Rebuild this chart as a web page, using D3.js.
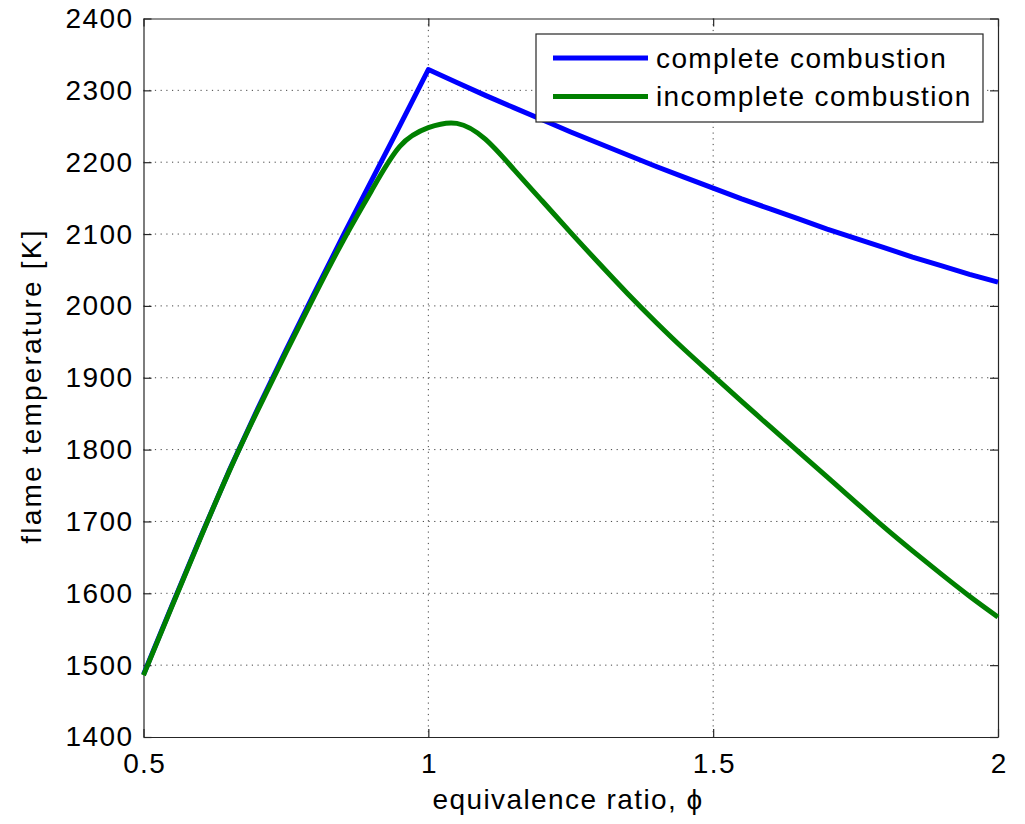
<!DOCTYPE html>
<html>
<head>
<meta charset="utf-8">
<script src="https://cdn.jsdelivr.net/npm/d3@7"></script>
<style>
    body { margin: 0; background: #fff; }
    text { font-family: Arial, "Liberation Sans", Helvetica, sans-serif; fill: #000; }
</style>
</head>
<body>
<div id="chart"></div>
<script>

// Data
const phi = [0.50, 0.55, 0.60, 0.65, 0.70, 0.75, 0.80, 0.85, 0.90, 0.95,
    1.00, 1.05, 1.10, 1.15, 1.20, 1.25, 1.30, 1.35, 1.40, 1.45,
    1.50, 1.55, 1.60, 1.65, 1.70, 1.75, 1.80, 1.85, 1.90, 1.95, 2.00]

const completeT = [1487, 1583, 1678, 1770, 1856, 1938, 2018, 2097, 2174, 2251,
    2329, 2311, 2293, 2276, 2259, 2242, 2226, 2210, 2194, 2179,
    2164, 2149, 2135, 2121, 2107, 2094, 2081, 2068, 2056, 2044, 2033]

const incompleteT = [1486, 1582, 1677, 1769, 1854, 1935, 2014, 2090, 2160, 2222,
    2248, 2254, 2232, 2190, 2146, 2102, 2059, 2017, 1977, 1939,
    1903, 1867, 1832, 1797, 1762, 1727, 1692, 1659, 1627, 1596, 1567]

const seriesLabels = ['complete combustion', 'incomplete combustion']
const seriesColors = ['#0000ff', '#008000']
const xTicks = [0.5, 1, 1.5, 2]
const yTicks = [1400, 1500, 1600, 1700, 1800, 1900, 2000, 2100, 2200, 2300, 2400]

// Layout
const width = 1025, height = 824
const plotLeft = 143.5, plotRight = 998, plotTop = 18.5, plotBottom = 737
const fontSize = 28
const letterSpacing = 1.4

const svg = d3.select('#chart').append('svg')
    .attr('width', width)
    .attr('height', height)

svg.append('rect').attr('width', width).attr('height', height).attr('fill', '#fff')

const xScale = d3.scaleLinear().domain([0.5, 2]).range([plotLeft, plotRight])
const yScale = d3.scaleLinear().domain([1400, 2400]).range([plotBottom, plotTop])

// Grid
const grid = svg.append('g').attr('class', 'grid')
grid.selectAll('.hgrid')
    .data(yTicks.slice(1, -1))
    .enter()
    .append('line')
    .attr('x1', plotLeft).attr('x2', plotRight)
    .attr('y1', d=>yScale(d)).attr('y2', d=>yScale(d))
grid.selectAll('.vgrid')
    .data(xTicks.slice(1, -1))
    .enter()
    .append('line')
    .attr('x1', d=>xScale(d)).attr('x2', d=>xScale(d))
    .attr('y1', plotTop).attr('y2', plotBottom)
grid.selectAll('line')
    .style('stroke', '#444')
    .style('stroke-width', 1)
    .style('stroke-dasharray', '1.2 4.5')

// Axes (box with inward ticks on all sides)
const tickLen = 8
const xAxis = d3.axisBottom(xScale).tickValues(xTicks).tickFormat(d3.format('')).tickSizeInner(-tickLen).tickSizeOuter(0).tickPadding(16)
const yAxis = d3.axisLeft(yScale).tickValues(yTicks).tickFormat(d3.format('d')).tickSizeInner(-tickLen).tickSizeOuter(0).tickPadding(10)
const xAxisTop = d3.axisTop(xScale).tickValues(xTicks).tickFormat('').tickSizeInner(-tickLen).tickSizeOuter(0)
const yAxisRight = d3.axisRight(yScale).tickValues(yTicks).tickFormat('').tickSizeInner(-tickLen).tickSizeOuter(0)

const gx = svg.append('g').attr('transform', 'translate(0,' + plotBottom + ')').call(xAxis)
const gy = svg.append('g').attr('transform', 'translate(' + plotLeft + ',0)').call(yAxis)
const gxt = svg.append('g').attr('transform', 'translate(0,' + plotTop + ')').call(xAxisTop)
const gyr = svg.append('g').attr('transform', 'translate(' + plotRight + ',0)').call(yAxisRight)

;[gx, gy, gxt, gyr].forEach(g=>{
    g.select('.domain').style('stroke', '#262626').style('stroke-width', 1.2)
    g.selectAll('.tick line').style('stroke', '#262626').style('stroke-width', 1.2)
    g.selectAll('.tick text')
        .style('font-family', 'Arial, "Liberation Sans", sans-serif')
        .style('font-size', fontSize + 'px')
        .style('letter-spacing', letterSpacing + 'px')
        .style('fill', '#000')
})
// keep x tick labels centred despite trailing letter spacing
gx.selectAll('.tick text').attr('dx', letterSpacing/2)

// Lines
const lineData = [completeT, incompleteT]
const curves = [d3.curveLinear, d3.curveNatural]

lineData.forEach((vals, i)=>{
    const line = d3.line()
        .x((_, j)=>xScale(phi[j]))
        .y(d=>yScale(d))
        .curve(curves[i])
    svg.append('path')
        .datum(vals)
        .attr('d', line)
        .style('fill', 'none')
        .style('stroke', seriesColors[i])
        .style('stroke-width', 5)
        .style('stroke-linejoin', 'round')
})

// Legend
const legend = svg.append('g').attr('class', 'legend')
legend.append('rect')
    .attr('x', 536).attr('y', 34)
    .attr('width', 447).attr('height', 88)
    .style('fill', '#fff')
    .style('stroke', '#262626')
    .style('stroke-width', 1.2)

const legendRows = legend.selectAll('.legend-row')
    .data(seriesLabels)
    .enter()
    .append('g')
    .attr('transform', (_, i)=>'translate(0,' + (58 + i*38.5) + ')')

legendRows.append('line')
    .attr('x1', 553).attr('x2', 648)
    .attr('y1', 0).attr('y2', 0)
    .style('stroke', (_, i)=>seriesColors[i])
    .style('stroke-width', 5)

legendRows.append('text')
    .attr('x', 656)
    .attr('y', 0)
    .attr('dy', '0.35em')
    .style('font-size', fontSize + 'px')
    .style('letter-spacing', letterSpacing + 'px')
    .text(d=>d)

// Axis labels
svg.append('text')
    .attr('x', 568)
    .attr('y', 809)
    .attr('text-anchor', 'middle')
    .style('font-size', fontSize + 'px')
    .style('letter-spacing', letterSpacing + 'px')
    .text('equivalence ratio, ϕ')

svg.append('text')
    .attr('transform', 'translate(41,' + 386 + ') rotate(-90)')
    .attr('text-anchor', 'middle')
    .style('font-size', fontSize + 'px')
    .style('letter-spacing', '2.2px')
    .text('flame temperature [K]')

</script>
</body>
</html>
